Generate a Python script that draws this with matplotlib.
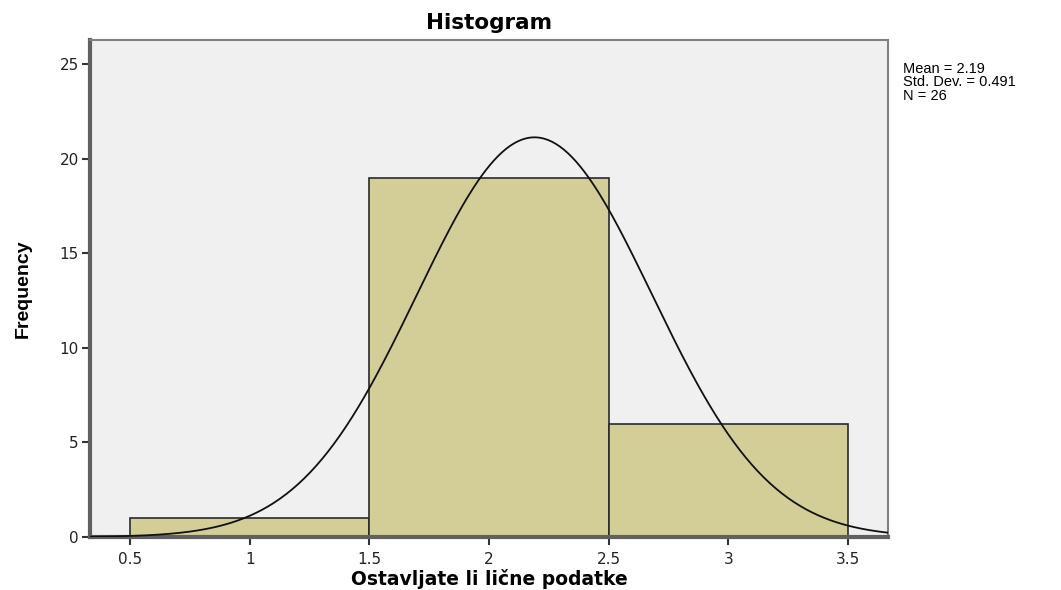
import matplotlib
matplotlib.use("Agg")
import matplotlib.pyplot as plt
import numpy as np

plt.rcParams['font.family'] = ['DejaVu Sans']

# Histogram bins (Ostavljate li lične podatke) and frequencies
bin_edges = [0.5, 1.5, 2.5, 3.5]
counts = [1, 19, 6]

mean = 2.19
std_dev = 0.491
n = 26

x_ticks = [0.5, 1, 1.5, 2, 2.5, 3, 3.5]
x_tick_labels = ["0.5", "1", "1.5", "2", "2.5", "3", "3.5"]
y_ticks = [0, 5, 10, 15, 20, 25]

fig = plt.figure(figsize=(10.61, 5.90), dpi=100)
ax = fig.add_axes([0.0848, 0.0898, 0.7522, 0.8424])
ax.set_facecolor("#f0f0f0")

widths = np.diff(bin_edges)
ax.bar(bin_edges[:-1], counts, width=widths, align="edge",
       color="#d3ce98", edgecolor="#2a2a2a", linewidth=1.2, zorder=2)

# normal curve scaled to counts (bin width 1)
xs = np.linspace(0.333, 3.667, 400)
bw = widths[0]
ys = n * bw / (std_dev * np.sqrt(2 * np.pi)) * np.exp(-0.5 * ((xs - mean) / std_dev) ** 2)
ax.plot(xs, ys, color="#111111", linewidth=1.3, zorder=3)

ax.set_xlim(0.333, 3.667)
ax.set_ylim(0, 26.27)
ax.set_xticks(x_ticks)
ax.set_xticklabels(x_tick_labels)
ax.set_yticks(y_ticks)
ax.tick_params(direction="out", length=6, width=1.5, color="#333333",
               labelsize=11, labelcolor="#222222")
ax.tick_params(axis="x", pad=5)
ax.tick_params(axis="y", pad=2)

for side in ["left", "bottom"]:
    ax.spines[side].set_linewidth(3)
    ax.spines[side].set_color("#606060")
for side in ["top", "right"]:
    ax.spines[side].set_linewidth(1.5)
    ax.spines[side].set_color("#808080")

ax.set_title("Histogram", fontsize=15.5, fontweight="bold", pad=8)
ax.set_xlabel("Ostavljate li lične podatke", fontsize=13.5, fontweight="bold", labelpad=1)
ax.set_ylabel("Frequency", fontsize=14, fontweight="bold", labelpad=20,
              family="Liberation Sans")

fig.text(0.851, 0.895, f"Mean = {mean}\nStd. Dev. = {std_dev}\nN = {n}",
         fontsize=10.5, va="top", ha="left", linespacing=0.95,
         family="Liberation Sans")

fig.savefig("out.png", dpi=100)
